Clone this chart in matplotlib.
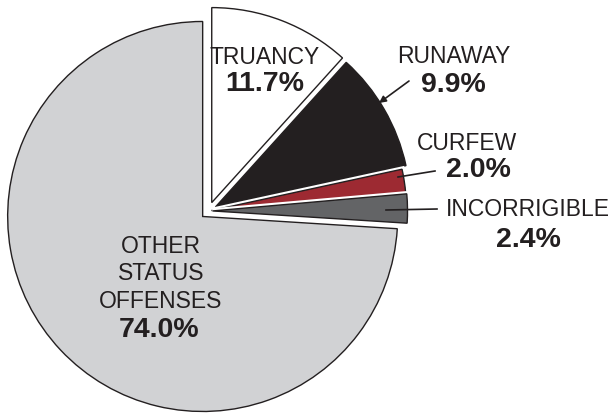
import matplotlib
matplotlib.use("Agg")
import matplotlib.pyplot as plt
import matplotlib.patheffects as pe

# Status offense cases by offense type (percent)
categories = ["TRUANCY", "RUNAWAY", "CURFEW", "INCORRIGIBLE", "OTHER\nSTATUS\nOFFENSES"]
shares = [11.7, 9.9, 2.0, 2.4, 74.0]
pct_labels = ["11.7%", "9.9%", "2.0%", "2.4%", "74.0%"]

colors = ["#ffffff", "#231f20", "#9d2a32", "#636466", "#d1d2d4"]
outline = "#231f20"

W, H = 616, 414
fig = plt.figure(figsize=(W / 100, H / 100), dpi=100)
ax = fig.add_axes([0, 0, 1, 1])

# axes units are pixels, so radius and explode offsets are in pixels too
R = 195
cx, cy = 208.5, H - 212.0
explode_px = [9, 8, 3, 4, 8]

wedges, _ = ax.pie(
    shares,
    colors=colors,
    startangle=90,
    counterclock=False,
    radius=R,
    center=(cx, cy),
    explode=explode_px,
    wedgeprops=dict(edgecolor=outline, linewidth=1.0),
    frame=True,
)
for w in wedges:
    w.set_path_effects([pe.Stroke(linewidth=4, foreground="white"), pe.Normal()])
ax.set_xlim(0, W)
ax.set_ylim(0, H)
ax.set_aspect("equal")
ax.axis("off")

font = "Liberation Sans"
txt = "#231f20"
reg = dict(family=font, fontsize=16.5, color=txt, ha="center", va="center")
bold = dict(family=font, fontsize=20.5, color=txt, ha="center", va="center", fontweight="bold")


def py(y):
    return H - y


# Truancy
ax.text(265, py(57), categories[0], **reg)
ax.text(265, py(84), pct_labels[0], **bold)

# Runaway with arrow into the slice
ax.text(454, py(56.5), categories[1], **reg)
ax.text(453, py(84.5), pct_labels[1], **bold)
ax.annotate("", xy=(379, py(104)), xytext=(409, py(82)),
            arrowprops=dict(arrowstyle="-|>", color=txt, lw=1.2, mutation_scale=10,
                            shrinkA=0, shrinkB=0))

# Curfew
ax.text(467, py(143), categories[2], **reg)
ax.text(478, py(170), pct_labels[2], **bold)
ax.plot([435, 398], [py(172), py(178)], color=txt, lw=1.2)

# Incorrigible
ax.text(528, py(209), categories[3], **reg)
ax.text(528, py(240), pct_labels[3], **bold)
ax.plot([437, 386], [py(210), py(211)], color=txt, lw=1.2)

# Other status offenses
ax.text(161, py(274), categories[4], linespacing=1.25, **reg)
ax.text(159, py(330), pct_labels[4], **bold)

fig.savefig("out.png", dpi=100)
